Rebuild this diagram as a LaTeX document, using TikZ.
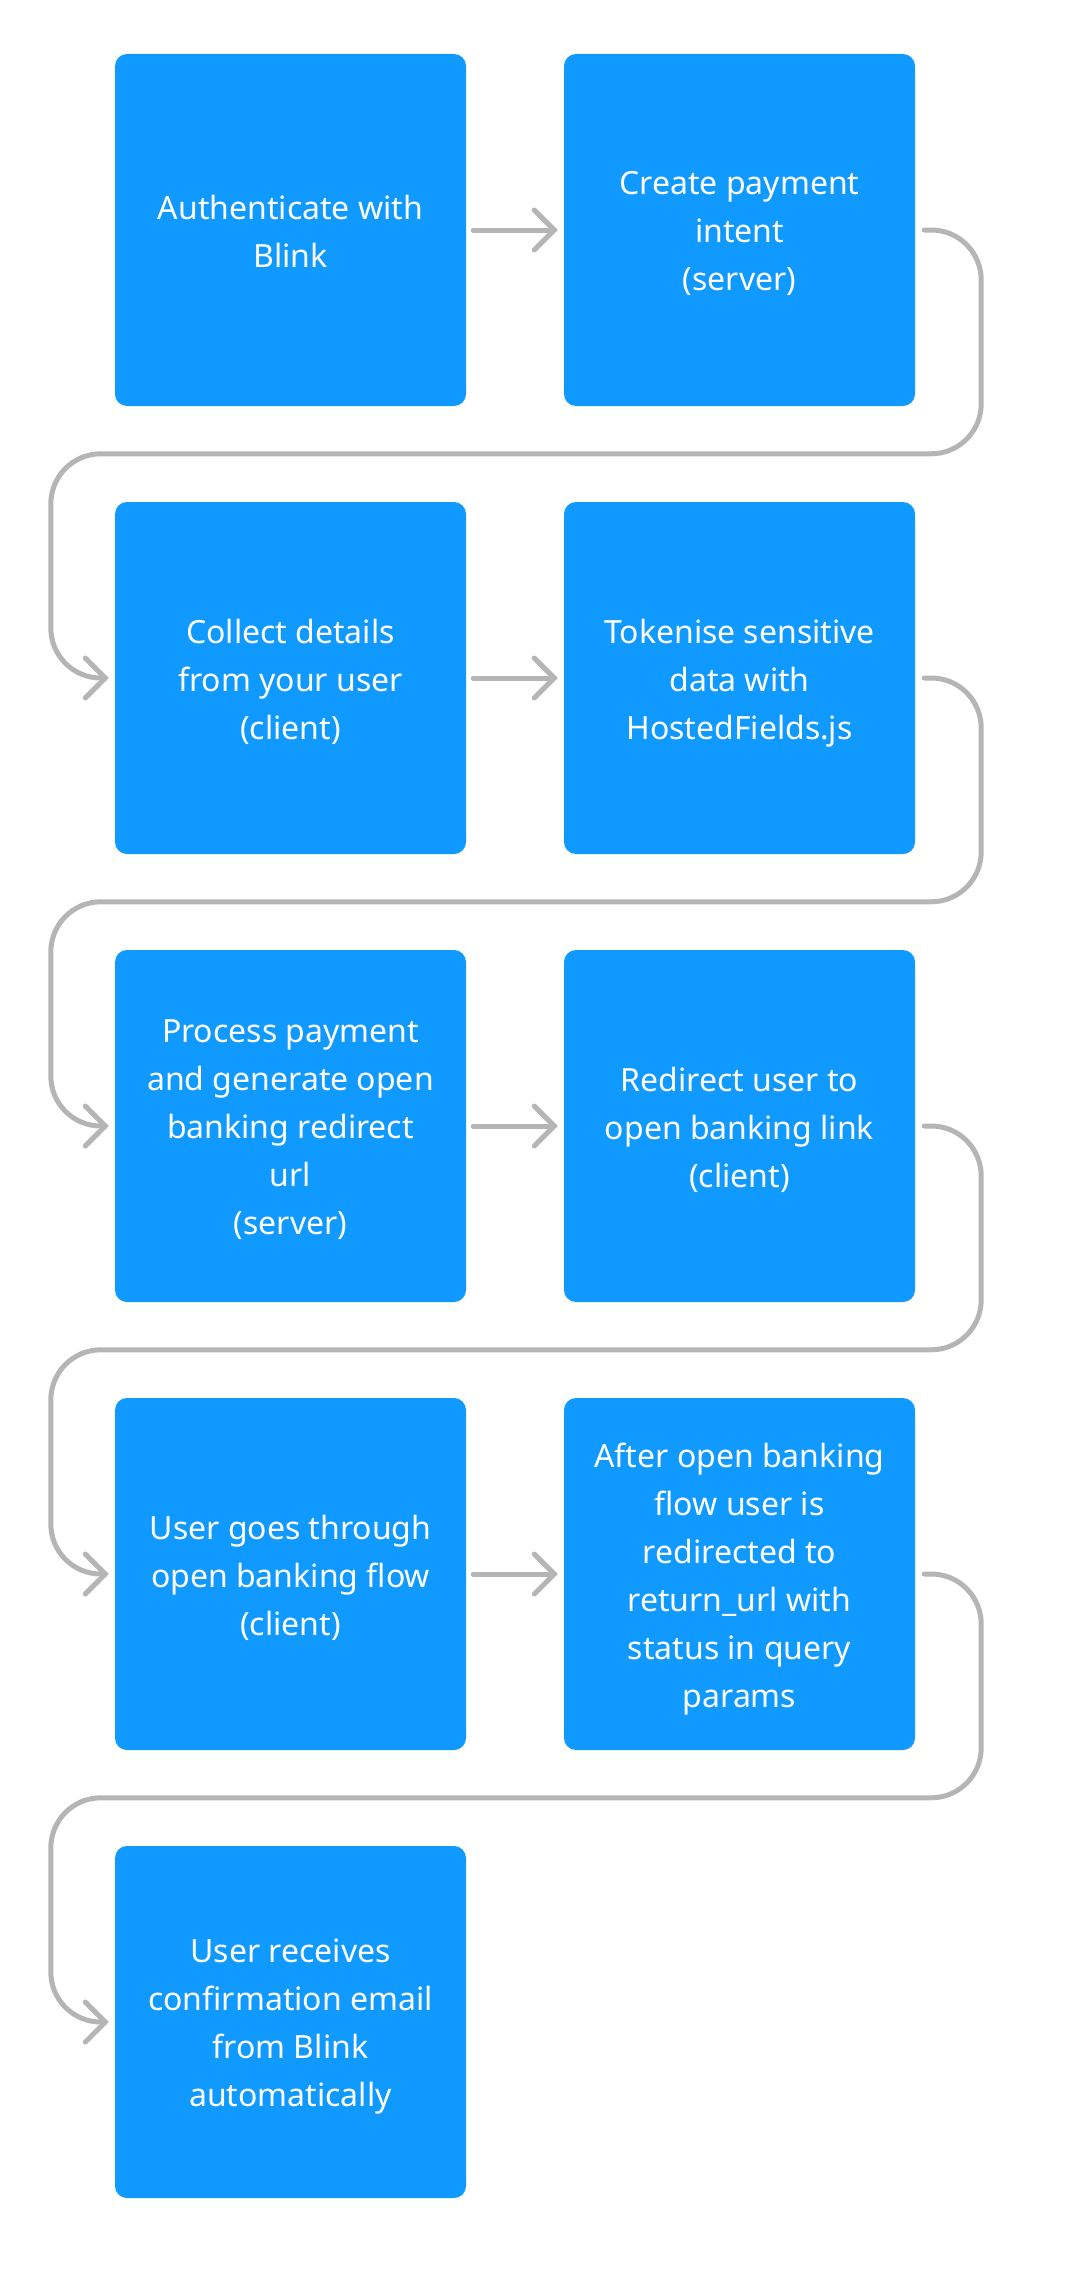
\documentclass[tikz,border=0pt]{standalone}
\usepackage{fontspec}
\setmainfont{Noto Sans}
\usetikzlibrary{arrows.meta}
\definecolor{boxblue}{RGB}{16,153,255}
\definecolor{conngray}{RGB}{181,181,181}
\newcommand\linestrut{\rule[-13pt]{0pt}{48pt}}
\begin{document}
\begin{tikzpicture}[x=1pt,y=-1pt,
  stepbox/.style={fill=boxblue, text=white, rounded corners=12pt, minimum width=351pt, minimum height=352pt, inner sep=0pt, align=center, font=\fontsize{32}{48}\selectfont, execute at begin node=\linestrut, execute at end node=\linestrut},
  boxtext/.style={text=white, inner sep=0pt, align=center, font=\fontsize{32}{48}\selectfont, execute at begin node=\linestrut, execute at end node=\linestrut, yshift=-7.5pt},
  conn/.style={draw=conngray, line width=5pt, line cap=round, line join=round, -{Straight Barb[length=20pt,width=40pt,line cap=round]}},
  wrap/.style={conn, rounded corners=50pt}]
\useasboundingbox (0,0) rectangle (1081,2285);
\tikzset{stepbox/.style={fill=boxblue, rounded corners=12pt, minimum width=351pt, minimum height=352pt, inner sep=0pt}}
\node[stepbox] (b1) at (290.5,230) {};
\node[stepbox] (b2) at (739.5,230) {};
\node[stepbox] (b3) at (290.5,678) {};
\node[stepbox] (b4) at (739.5,678) {};
\node[stepbox] (b5) at (290.5,1126) {};
\node[stepbox] (b6) at (739.5,1126) {};
\node[stepbox] (b7) at (290.5,1574) {};
\node[stepbox] (b8) at (739.5,1574) {};
\node[stepbox] (b9) at (290.5,2022) {};
\node[boxtext] (t1) at (b1.center) {Authenticate with\\Blink};
\node[boxtext] (t2) at (b2.center) {Create payment\\intent\\(server)};
\node[boxtext] (t3) at (b3.center) {Collect details\\from your user\\(client)};
\node[boxtext] (t4) at (b4.center) {Tokenise sensitive\\data with\\HostedFields.js};
\node[boxtext] (t5) at (b5.center) {Process payment\\and generate open\\banking redirect\\url\\(server)};
\node[boxtext] (t6) at (b6.center) {Redirect user to\\open banking link\\(client)};
\node[boxtext] (t7) at (b7.center) {User goes through\\open banking flow\\(client)};
\node[boxtext] (t8) at (b8.center) {After open banking\\flow user is\\redirected to\\return\_url with\\status in query\\params};
\node[boxtext] (t9) at (b9.center) {User receives\\confirmation email\\from Blink\\automatically};
\draw[conn] ([xshift=7pt]b1.east) -- ([xshift=-6pt]b2.west);
\draw[conn] ([xshift=7pt]b3.east) -- ([xshift=-6pt]b4.west);
\draw[conn] ([xshift=7pt]b5.east) -- ([xshift=-6pt]b6.west);
\draw[conn] ([xshift=7pt]b7.east) -- ([xshift=-6pt]b8.west);
\draw[wrap] ([xshift=9pt]b2.east) -- ++(57pt,0pt) |- ([yshift=48pt]b4.north) -| ([xshift=-64pt]b3.west) -- ([xshift=-6pt]b3.west);
\draw[wrap] ([xshift=9pt]b4.east) -- ++(57pt,0pt) |- ([yshift=48pt]b6.north) -| ([xshift=-64pt]b5.west) -- ([xshift=-6pt]b5.west);
\draw[wrap] ([xshift=9pt]b6.east) -- ++(57pt,0pt) |- ([yshift=48pt]b8.north) -| ([xshift=-64pt]b7.west) -- ([xshift=-6pt]b7.west);
\draw[wrap] ([xshift=9pt]b8.east) -- ++(57pt,0pt) |- ([yshift=48pt]b9.north -| b8.north) -| ([xshift=-64pt]b9.west) -- ([xshift=-6pt]b9.west);
\end{tikzpicture}
\end{document}
